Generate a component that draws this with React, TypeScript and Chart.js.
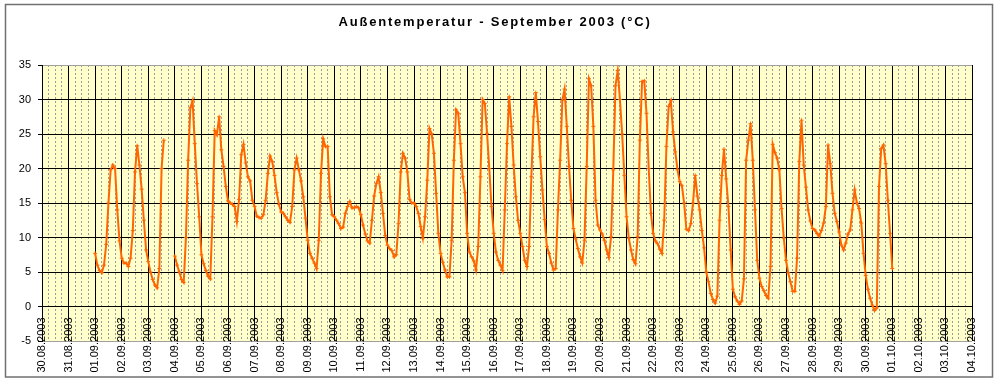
import React, { useEffect, useRef } from 'react';
import { Chart, registerables } from 'chart.js';

Chart.register(...registerables);

const chartTitle = 'Außentemperatur - September 2003 (°C)';

// x-axis categories: one tick per day, index 0 = 30.08.2003
const dayLabels = [
  '30.08.2003', '31.08.2003',
  '01.09.2003', '02.09.2003', '03.09.2003', '04.09.2003', '05.09.2003', '06.09.2003',
  '07.09.2003', '08.09.2003', '09.09.2003', '10.09.2003', '11.09.2003', '12.09.2003',
  '13.09.2003', '14.09.2003', '15.09.2003', '16.09.2003', '17.09.2003', '18.09.2003',
  '19.09.2003', '20.09.2003', '21.09.2003', '22.09.2003', '23.09.2003', '24.09.2003',
  '25.09.2003', '26.09.2003', '27.09.2003', '28.09.2003', '29.09.2003', '30.09.2003',
  '01.10.2003', '02.10.2003', '03.10.2003', '04.10.2003',
];

const yMin = -5;
const yMax = 35;
const yStep = 5;

// first reading: 01.09.2003 00:00 (day index 2), one reading every 2 hours
const firstReadingDay = 2;
const readingStepHours = 2;

// temperatures (°C), 12 readings per day at 00,02,...,22 h
const temperatures: (number | null)[] = [
  /* 01.09 */ 7.7, 6.0, 5.2, 4.9, 6.0, 9.0, 15.0, 19.8, 20.5, 20.0, 14.0, 9.5,
  /* 02.09 */ 7.0, 6.3, 6.3, 5.8, 7.0, 11.0, 19.5, 23.3, 20.5, 17.0, 12.5, 8.2,
  /* 03.09 */ 6.5, 5.0, 3.9, 3.1, 2.7, 5.5, 20.0, 24.1, null, null, null, null,
  /* 04.09 */ 7.3, 6.0, 5.0, 3.9, 3.5, 10.0, 21.2, 28.8, 29.8, 23.6, 17.8, 13.0,
  /* 05.09 */ 7.5, 6.2, 5.2, 4.4, 4.0, 13.0, 25.5, 24.9, 27.5, 22.7, 20.3, 17.4,
  /* 06.09 */ 15.3, 15.0, 14.8, 14.5, 12.3, 15.5, 22.0, 23.5, 20.8, 18.8, 18.2, 15.4,
  /* 07.09 */ 14.5, 13.1, 12.9, 12.8, 13.3, 15.4, 19.3, 21.8, 21.0, 19.0, 16.5, 14.8,
  /* 08.09 */ 13.7, 13.5, 13.0, 12.5, 12.2, 14.5, 19.8, 21.5, 19.8, 18.2, 15.9, 12.8,
  /* 09.09 */ 9.6, 7.7, 7.0, 6.3, 5.5, 9.6, 19.3, 24.3, 23.2, 23.2, 15.9, 13.3,
  /* 10.09 */ 13.0, 12.5, 12.0, 11.3, 11.5, 13.5, 14.5, 15.2, 14.3, 14.3, 14.5, 14.3,
  /* 11.09 */ 13.3, 11.8, 10.5, 9.5, 9.2, 12.5, 16.0, 17.8, 18.8, 16.5, 13.5, 10.3,
  /* 12.09 */ 8.9, 8.4, 8.1, 7.2, 7.5, 12.0, 19.5, 22.2, 21.5, 19.5, 15.5, 15.0,
  /* 13.09 */ 15.0, 14.5, 13.5, 11.6, 9.9, 13.0, 18.3, 25.8, 25.0, 22.2, 16.4, 10.6,
  /* 14.09 */ 7.7, 6.4, 5.3, 4.3, 4.3, 9.6, 21.2, 28.5, 28.0, 23.6, 18.8, 16.5,
  /* 15.09 */ 10.6, 7.9, 7.2, 6.6, 5.3, 8.7, 18.8, 30.0, 29.4, 25.1, 20.0, 14.5,
  /* 16.09 */ 10.6, 7.9, 6.7, 6.0, 5.2, 14.0, 23.6, 30.4, 26.1, 20.5, 15.9, 12.5,
  /* 17.09 */ 10.6, 8.7, 6.7, 5.8, 8.7, 18.8, 27.5, 31.0, 26.8, 21.7, 16.9, 12.6,
  /* 18.09 */ 8.7, 7.7, 6.3, 5.3, 5.5, 14.0, 21.2, 29.9, 31.5, 26.1, 20.3, 15.4,
  /* 19.09 */ 11.3, 9.8, 8.4, 7.2, 6.3, 9.6, 20.3, 33.0, 32.0, 26.1, 15.4, 11.8,
  /* 20.09 */ 11.1, 10.5, 9.6, 8.2, 7.1, 10.1, 19.8, 32.0, 34.2, 30.0, 25.0, 19.0,
  /* 21.09 */ 13.0, 9.9, 8.2, 6.8, 6.2, 10.1, 24.1, 32.6, 32.7, 28.0, 20.0, 13.5,
  /* 22.09 */ 10.6, 9.5, 9.1, 8.3, 7.7, 12.5, 23.2, 29.0, 29.8, 25.3, 22.4, 19.8,
  /* 23.09 */ 18.1, 17.5, 15.0, 11.2, 11.0, 12.0, 15.0, 19.0, 16.0, 14.0, 11.0, 8.5,
  /* 24.09 */ 5.0, 3.6, 1.9, 1.0, 0.5, 1.5, 12.5, 19.0, 22.8, 18.5, 14.5, 8.2,
  /* 25.09 */ 2.5, 1.4, 0.8, 0.3, 0.8, 4.0, 21.2, 24.1, 26.5, 21.2, 14.0, 6.7,
  /* 26.09 */ 4.1, 2.9, 2.3, 1.6, 1.2, 5.8, 23.5, 22.3, 21.5, 19.8, 14.2, 9.9,
  /* 27.09 */ 6.7, 4.9, 3.6, 2.2, 2.2, 7.0, 21.0, 27.0, 20.5, 17.3, 14.0, 12.4,
  /* 28.09 */ 11.3, 11.1, 10.6, 10.2, 11.0, 12.1, 14.5, 23.4, 20.7, 16.4, 13.5, 12.3,
  /* 29.09 */ 10.8, 8.9, 8.2, 9.2, 10.5, 11.1, 14.0, 16.9, 15.0, 14.2, 12.1, 7.7,
  /* 30.09 */ 4.5, 2.5, 1.2, 0.2, -0.6, -0.2, 17.4, 22.9, 23.4, 20.7, 15.4, 10.6,
  /* 01.10 */ 5.5,
];

const lineColor = '#FF6600';
const plotBackground = '#FFFFCC';
const fontFamily = '"Liberation Sans", Arial, sans-serif';

const decorPlugin = {
  id: 'decor',
  beforeDraw(chart: any) {
    const { ctx, chartArea } = chart;
    ctx.save();
    ctx.fillStyle = '#ffffff';
    ctx.fillRect(0, 0, chart.width, chart.height);
    ctx.fillStyle = plotBackground;
    ctx.fillRect(chartArea.left, chartArea.top, chartArea.right - chartArea.left, chartArea.bottom - chartArea.top);
    ctx.restore();
  },
  afterDraw(chart: any) {
    const { ctx } = chart;
    ctx.save();
    ctx.strokeStyle = '#707070';
    ctx.lineWidth = 1.5;
    ctx.strokeRect(5.5, 4.5, 987, 372.5);
    ctx.fillStyle = '#000';
    ctx.font = 'bold 13px ' + fontFamily;
    (ctx as any).letterSpacing = '1.8px';
    ctx.textAlign = 'center';
    ctx.textBaseline = 'middle';
    ctx.fillText(chartTitle, 495, 22);
    ctx.restore();
  },
};

export default function App() {
  const canvasRef = useRef<HTMLCanvasElement | null>(null);

  useEffect(() => {
    if (!canvasRef.current) return;
    const points = temperatures.map((v, i) => ({
      x: firstReadingDay + (i * readingStepHours) / 24,
      y: v,
    }));
    const chart = new Chart(canvasRef.current, {
      type: 'line',
      data: {
        datasets: [
          {
            data: points as any,
            borderColor: lineColor,
            backgroundColor: lineColor,
            borderWidth: 2,
            pointStyle: 'cross',
            pointRadius: 2,
            pointBorderWidth: 1,
            pointBorderColor: lineColor,
            tension: 0,
            spanGaps: false,
            fill: false,
          },
        ],
      },
      options: {
        animation: false,
        responsive: false,
        devicePixelRatio: 1,
        layout: { padding: { top: 65, right: 28, bottom: 41, left: 0 } },
        plugins: {
          legend: { display: false },
          title: { display: false },
          tooltip: { enabled: false },
        },
        scales: {
          xMinor: {
            type: 'linear',
            min: 0,
            max: dayLabels.length - 1,
            position: { y: 0 } as any,
            ticks: { display: false, stepSize: 0.25, maxTicksLimit: 500 },
            grid: {
              drawTicks: false,
              color: '#9a9a9a',
              lineWidth: (c: any) => (Number.isInteger(Math.round(c.tick.value * 1000) / 1000) ? 0 : 1),
            },
            border: { display: false, dash: [2, 2] },
          },
          x: {
            type: 'linear',
            min: 0,
            max: dayLabels.length - 1,
            position: { y: 0 } as any,
            ticks: {
              stepSize: 1,
              autoSkip: false,
              maxRotation: 90,
              minRotation: 90,
              padding: 11,
              color: '#000',
              font: { family: fontFamily, size: 11 },
              callback: (v: any) => dayLabels[Math.round(Number(v))] ?? '',
            },
            grid: { drawTicks: false, color: '#000', lineWidth: 1 },
            border: { display: true, color: '#000', width: 1 },
          },
          y: {
            type: 'linear',
            min: yMin,
            max: yMax,
            ticks: {
              stepSize: yStep,
              padding: 7,
              color: '#000',
              font: { family: fontFamily, size: 11 },
            },
            grid: {
              color: (c: any) => (c.tick.value === yMax || c.tick.value === yMin ? '#a0a0a0' : '#000'),
              tickColor: '#000',
              tickLength: 4,
              lineWidth: 1,
            },
            border: { color: '#000', width: 1 },
            afterFit: (scale: any) => {
              scale.width = 42;
            },
          },
        },
      },
      plugins: [decorPlugin],
    });
    return () => chart.destroy();
  }, []);

  return (
    <div style={{ position: 'fixed', left: 0, top: 0, width: 1000, height: 382, background: '#fff' }}>
      <canvas ref={canvasRef} width={1000} height={382} style={{ width: 1000, height: 382, display: 'block' }} />
    </div>
  );
}
